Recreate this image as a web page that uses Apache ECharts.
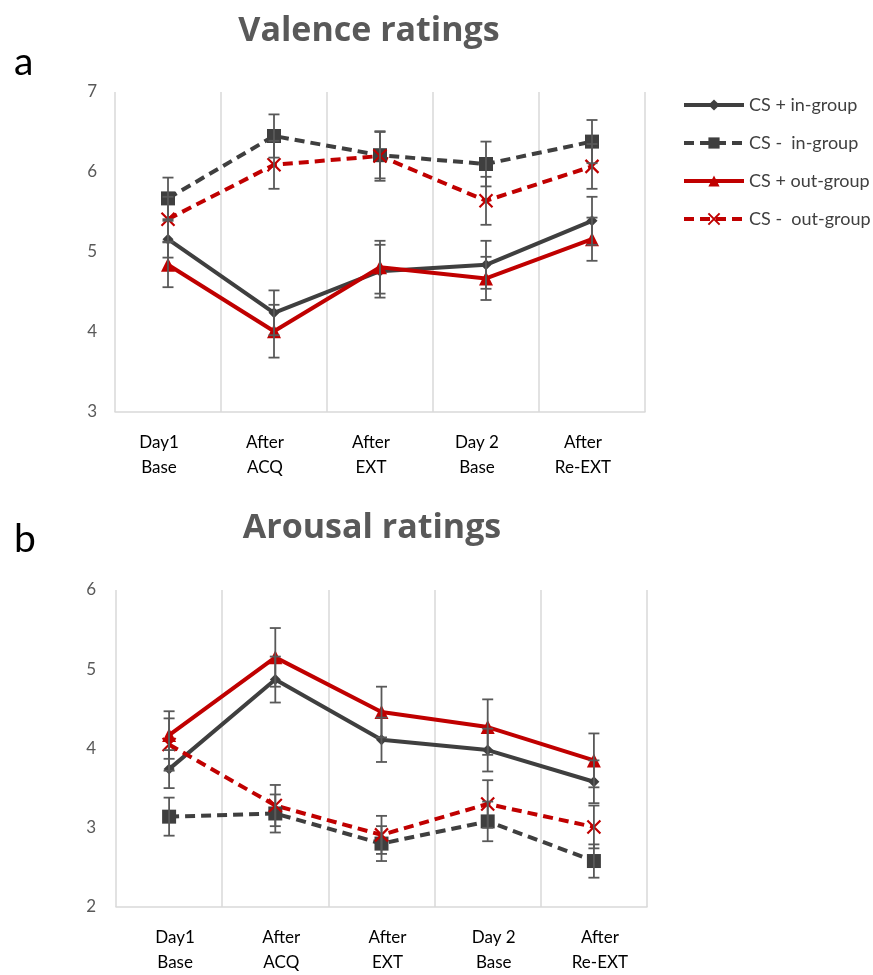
<!DOCTYPE html>
<html>
<head>
<meta charset="utf-8">
<script src="https://cdn.jsdelivr.net/npm/echarts@6/dist/echarts.min.js"></script>
<style>
html,body{margin:0;padding:0;background:#fff;}
#chart{width:873px;height:975px;}
</style>
</head>
<body>
<div id="chart"></div>
<script>
// ---- data ----
const categories = ['Day1\nBase', 'After\nACQ', 'After\nEXT', 'Day 2\nBase', 'After\nRe-EXT'];
const seriesNames = ['CS + in-group', 'CS -  in-group', 'CS + out-group', 'CS -  out-group'];
const valenceTicks = [3, 4, 5, 6, 7];
const arousalTicks = [2, 3, 4, 5, 6];

// Valence ratings (means and standard errors)
const valCsPlusIn = [5.16, 4.24, 4.76, 4.84, 5.39];
const valCsPlusInSE = [0.23, 0.28, 0.33, 0.30, 0.30];
const valCsMinusIn = [5.67, 6.45, 6.21, 6.10, 6.38];
const valCsMinusInSE = [0.26, 0.27, 0.29, 0.28, 0.27];
const valCsPlusOut = [4.84, 4.01, 4.81, 4.67, 5.16];
const valCsPlusOutSE = [0.28, 0.33, 0.33, 0.27, 0.27];
const valCsMinusOut = [5.41, 6.09, 6.20, 5.64, 6.07];
const valCsMinusOutSE = [0.28, 0.30, 0.31, 0.30, 0.28];

// Arousal ratings (means and standard errors)
const aroCsPlusIn = [3.74, 4.87, 4.11, 3.98, 3.58];
const aroCsPlusInSE = [0.24, 0.29, 0.28, 0.27, 0.27];
const aroCsMinusIn = [3.14, 3.18, 2.80, 3.08, 2.58];
const aroCsMinusInSE = [0.24, 0.24, 0.22, 0.25, 0.21];
const aroCsPlusOut = [4.17, 5.15, 4.46, 4.27, 3.85];
const aroCsPlusOutSE = [0.30, 0.37, 0.32, 0.35, 0.34];
const aroCsMinusOut = [4.05, 3.28, 2.91, 3.30, 3.01];
const aroCsMinusOutSE = [0.33, 0.26, 0.24, 0.30, 0.27];

// ---- styles ----
const DARK = '#3f3f3f';
const RED = '#c00000';
const ERR = '#595959';
const FONT = 'Lato, "Open Sans", sans-serif';
const TFONT = '"Open Sans", Lato, sans-serif';
const XPATH = 'path://M0,0L10,10M10,0L0,10';

const styles = [
  {color: DARK, dash: 'solid', symbol: 'diamond', size: 11, item: {color: DARK}},
  {color: DARK, dash: [10, 6], symbol: 'rect', size: 14, item: {color: DARK}},
  {color: RED, dash: 'solid', symbol: 'triangle', size: 14, item: {color: RED}},
  {color: RED, dash: [10, 6], symbol: XPATH, size: 13, item: {color: 'rgba(0,0,0,0)', borderColor: RED, borderWidth: 2.2}}
];

function lineSeries(name, data, idx, st) {
  return {
    type: 'line', name: name, data: data,
    xAxisIndex: idx, yAxisIndex: idx,
    symbol: st.symbol, symbolSize: st.size, showAllSymbol: true,
    lineStyle: {color: st.color, width: 4, type: st.dash},
    itemStyle: st.item,
    z: 2, animation: false
  };
}

function errSeries(name, means, ses, idx) {
  return {
    type: 'custom', name: name + ' err',
    xAxisIndex: idx, yAxisIndex: idx,
    data: means.map((m, i) => [i, m, ses[i]]),
    encode: {x: 0, y: 1},
    z: 3, silent: true, animation: false,
    renderItem: function (params, api) {
      const x = api.value(0), m = api.value(1), s = api.value(2);
      const hi = api.coord([x, m + s]);
      const lo = api.coord([x, m - s]);
      const w = 5.5;
      const st = {stroke: ERR, lineWidth: 1.8};
      return {
        type: 'group',
        children: [
          {type: 'line', shape: {x1: hi[0], y1: hi[1], x2: lo[0], y2: lo[1]}, style: st},
          {type: 'line', shape: {x1: hi[0] - w, y1: hi[1], x2: hi[0] + w, y2: hi[1]}, style: st},
          {type: 'line', shape: {x1: lo[0] - w, y1: lo[1], x2: lo[0] + w, y2: lo[1]}, style: st}
        ]
      };
    }
  };
}

function xAxis(idx, padding) {
  return {
    type: 'category', gridIndex: idx, data: categories, boundaryGap: true,
    axisLine: {show: true, lineStyle: {color: '#d9d9d9', width: 1.5}},
    axisTick: {show: false},
    splitLine: {show: true, lineStyle: {color: '#d9d9d9', width: 1.5}},
    axisLabel: {color: '#000', fontFamily: FONT, fontSize: 17, lineHeight: 25, margin: 18, padding: padding, interval: 0}
  };
}
function yAxis(idx, ticks, margin) {
  return {
    type: 'value', gridIndex: idx, min: ticks[0], max: ticks[ticks.length - 1], interval: 1,
    axisLine: {show: false}, axisTick: {show: false}, splitLine: {show: false},
    axisLabel: {color: '#595959', fontFamily: FONT, fontSize: 17, margin: margin}
  };
}

const valSets = [[valCsPlusIn, valCsPlusInSE], [valCsMinusIn, valCsMinusInSE], [valCsPlusOut, valCsPlusOutSE], [valCsMinusOut, valCsMinusOutSE]];
const aroSets = [[aroCsPlusIn, aroCsPlusInSE], [aroCsMinusIn, aroCsMinusInSE], [aroCsPlusOut, aroCsPlusOutSE], [aroCsMinusOut, aroCsMinusOutSE]];

const series = [];
valSets.forEach((d, i) => series.push(lineSeries(seriesNames[i], d[0], 0, styles[i])));
aroSets.forEach((d, i) => series.push(lineSeries(seriesNames[i], d[0], 1, styles[i])));
valSets.forEach((d, i) => series.push(errSeries(seriesNames[i], d[0], d[1], 0)));
aroSets.forEach((d, i) => series.push(errSeries(seriesNames[i], d[0], d[1], 1)));

const chart = echarts.init(document.getElementById('chart'), null, {renderer: 'canvas'});
chart.setOption({
  backgroundColor: '#fff',
  animation: false,
  title: [
    {text: 'Valence ratings', left: 364, top: 9, textAlign: 'center',
     textStyle: {fontFamily: TFONT, fontSize: 34, fontWeight: 'bold', color: '#595959'}},
    {text: 'Arousal ratings', left: 367, top: 506, textAlign: 'center',
     textStyle: {fontFamily: TFONT, fontSize: 34, fontWeight: 'bold', color: '#595959'}},
    {text: 'a', left: 9, top: 38, textStyle: {fontFamily: FONT, fontSize: 39, fontWeight: 'normal', color: '#000'}},
    {text: 'b', left: 9, top: 515, textStyle: {fontFamily: FONT, fontSize: 39, fontWeight: 'normal', color: '#000'}}
  ],
  legend: {
    data: seriesNames,
    orient: 'vertical', left: 677, top: 91,
    itemWidth: 60, itemHeight: 14, itemGap: 20,
    lineStyle: {width: 4},
    textStyle: {fontFamily: FONT, fontSize: 18, color: '#404040'}
  },
  grid: [
    {left: 115, top: 92, width: 530, height: 320},
    {left: 116, top: 590, width: 531, height: 320}
  ],
  xAxis: [xAxis(0, [0, 18, 0, 0]), xAxis(1, [0, 0, 0, 12])],
  yAxis: [yAxis(0, valenceTicks, 18), yAxis(1, arousalTicks, 20)],
  series: series
});
</script>
</body>
</html>
